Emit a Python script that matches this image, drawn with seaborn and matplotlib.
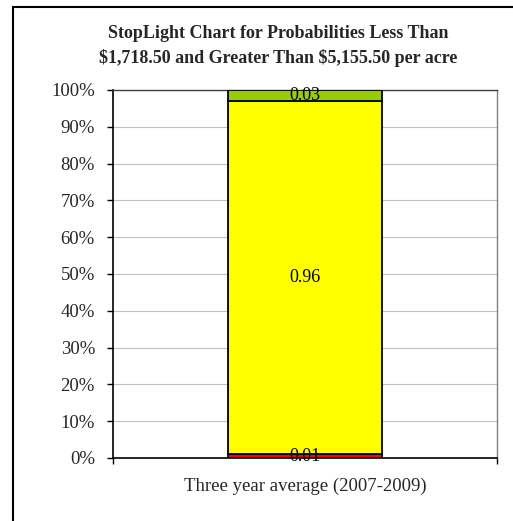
import matplotlib
matplotlib.use("Agg")
import matplotlib.pyplot as plt
import seaborn as sns
import pandas as pd
from matplotlib.patches import Rectangle
from matplotlib.ticker import PercentFormatter, FixedLocator

# Probability bands for the three-year average
category = ["Three year average (2007-2009)"]
low_prob = [0.01]     # below $1,718.50 (red)
mid_prob = [0.96]     # between the two thresholds (yellow)
high_prob = [0.03]    # above $5,155.50 (green)

sns.set_theme(style="white")
plt.rcParams["font.family"] = ["Liberation Serif", "DejaVu Serif"]
plt.rcParams["text.parse_math"] = False

df = pd.DataFrame({"cat": category, "low": low_prob, "mid": mid_prob, "high": high_prob})

fig = plt.figure(figsize=(5.13, 5.21), dpi=100)
ax = fig.add_axes([113 / 513, 1 - 458 / 521, (497 - 113) / 513, (458 - 90) / 521])

segments = [
    ("low", "#ff0000", None),
    ("mid", "#ffff00", df["low"]),
    ("high", "#99cc00", df["low"] + df["mid"]),
]
for col, color, bottom in segments:
    sns.barplot(data=df, x="cat", y=col, color=color, bottom=bottom,
                width=0.4, edgecolor="black", linewidth=1.3, saturation=1,
                ax=ax, zorder=3)

# Value labels centred in each segment
cum = 0.0
for col, _, _ in segments:
    v = df[col].iloc[0]
    ax.text(0, cum + v / 2, f"{v:.2f}", ha="center", va="center",
            fontsize=13, color="black", zorder=5)
    cum += v

ax.set_ylim(0, 1)
ax.set_xlim(-0.5, 0.5)
ax.yaxis.set_major_locator(FixedLocator([i / 10 for i in range(11)]))
ax.yaxis.set_major_formatter(PercentFormatter(1.0, decimals=0))
ax.grid(axis="y", color="#c0c0c0", linewidth=0.8, zorder=0)
ax.set_axisbelow(True)
ax.set_xlabel("")
ax.set_ylabel("")

ax.tick_params(axis="y", which="major", direction="out", length=4, width=1,
               color="black", labelsize=13.5, pad=9, left=True)
ax.set_xticks([-0.5, 0.5], minor=True)
ax.tick_params(axis="x", which="minor", direction="out", length=4, width=1,
               color="black", bottom=True)
ax.tick_params(axis="x", which="major", length=0, labelsize=13.5, pad=14)

for side in ["left", "bottom"]:
    ax.spines[side].set_color("black")
    ax.spines[side].set_linewidth(1.2)
ax.spines["top"].set_color("#404040")
ax.spines["top"].set_linewidth(1.0)
ax.spines["right"].set_color("#808080")
ax.spines["right"].set_linewidth(1.0)

title_lines = ["StopLight Chart for Probabilities Less Than",
               "$1,718.50 and Greater Than $5,155.50 per acre"]
for line, ypix in zip(title_lines, [33, 58]):
    fig.text(278 / 513, 1 - ypix / 521, line, ha="center", va="center",
             fontsize=13, fontweight="bold")

# Chart border
fig.patches.append(Rectangle((13 / 513, -0.05), 1.0, 1 - 7 / 521 + 0.05,
                             transform=fig.transFigure, fill=False,
                             edgecolor="black", linewidth=1.5))

fig.savefig("out.png", dpi=100)
